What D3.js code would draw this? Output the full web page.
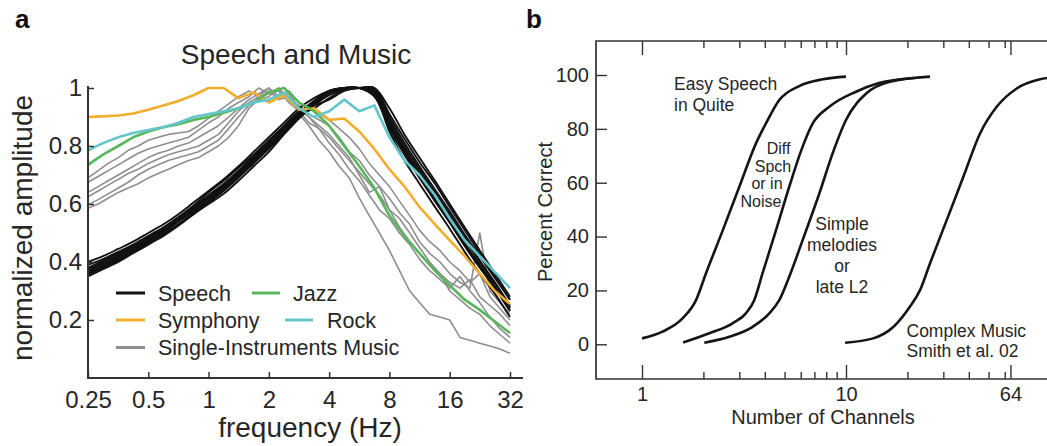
<!DOCTYPE html>
<html><head><meta charset="utf-8">
<script src="https://cdn.jsdelivr.net/npm/d3@7"></script>
<style>
body{margin:0;background:#fff;}
svg{display:block;font-family:"Liberation Sans",Arial,Helvetica,sans-serif;}
</style>
</head><body>
<svg id="c" width="1047" height="446"></svg>
<script>
// ---------------- Panel a data ----------------
const freqQuarter = [0.25,0.297,0.354,0.42,0.5,0.595,0.707,0.841,1,1.19,1.41,1.68,2,2.38,2.83,3.36,4,4.76,5.66,6.73,8,9.51,11.3,13.5,16,19,22.6,26.9,32];
const freqSixth = [0.25,0.281,0.315,0.354,0.397,0.445,0.5,0.561,0.63,0.707,0.794,0.891,1,1.12,1.26,1.41,1.59,1.78,2,2.24,2.52,2.83,3.17,3.56,4,4.49,5.04,5.66,6.35,7.13,8,8.98,10.1,11.3,12.7,14.3,16,18,20.2,22.6,25.4,28.5,32];

const speech1 = [0.40,0.42,0.445,0.47,0.50,0.53,0.565,0.605,0.645,0.685,0.73,0.78,0.83,0.88,0.93,0.965,0.99,1.0,1.0,0.97,0.86,0.77,0.69,0.61,0.535,0.455,0.38,0.31,0.23];
const speech2 = [0.35,0.375,0.40,0.43,0.46,0.49,0.525,0.565,0.605,0.645,0.69,0.74,0.79,0.845,0.90,0.945,0.98,1.0,1.0,0.99,0.90,0.81,0.73,0.65,0.575,0.495,0.42,0.345,0.27];
const speech3 = [0.37,0.395,0.42,0.445,0.475,0.505,0.54,0.58,0.62,0.66,0.705,0.755,0.805,0.855,0.91,0.95,0.98,0.995,1.0,1.0,0.91,0.825,0.745,0.67,0.59,0.51,0.43,0.35,0.27];
const speech4 = [0.38,0.405,0.43,0.455,0.485,0.515,0.55,0.59,0.63,0.67,0.715,0.765,0.815,0.865,0.915,0.955,0.99,1.0,1.0,0.98,0.87,0.78,0.695,0.615,0.54,0.46,0.385,0.31,0.235];
const speech5 = [0.36,0.385,0.41,0.44,0.47,0.50,0.53,0.565,0.60,0.635,0.68,0.73,0.78,0.84,0.895,0.94,0.975,0.995,1.0,0.995,0.89,0.80,0.72,0.64,0.565,0.485,0.405,0.33,0.25];
const speech6 = [0.39,0.41,0.435,0.46,0.49,0.52,0.555,0.595,0.64,0.68,0.725,0.77,0.82,0.87,0.92,0.94,0.96,0.99,1.0,0.99,0.88,0.785,0.705,0.625,0.545,0.465,0.39,0.315,0.24];
const speech7 = [0.355,0.38,0.405,0.435,0.465,0.495,0.53,0.57,0.61,0.65,0.695,0.745,0.795,0.85,0.905,0.95,0.985,1.0,1.0,0.975,0.85,0.75,0.67,0.59,0.515,0.435,0.36,0.29,0.21];
const speech8 = [0.375,0.40,0.425,0.45,0.48,0.51,0.545,0.585,0.625,0.665,0.71,0.76,0.81,0.86,0.905,0.93,0.965,0.995,1.0,1.0,0.93,0.84,0.76,0.68,0.60,0.52,0.44,0.36,0.28];
const speech9 = [0.365,0.39,0.415,0.445,0.475,0.505,0.54,0.575,0.615,0.655,0.70,0.75,0.80,0.855,0.91,0.955,0.99,1.0,1.0,0.985,0.88,0.79,0.71,0.635,0.56,0.48,0.40,0.325,0.245];

const single1 = [0.69,0.715,0.74,0.76,0.785,0.80,0.82,0.83,0.84,0.845,0.85,0.87,0.895,0.92,0.945,0.97,0.99,0.97,1.0,0.97,0.99,0.95,0.93,0.91,0.89,0.86,0.83,0.79,0.74,0.70,0.66,0.61,0.56,0.51,0.47,0.44,0.40,0.37,0.33,0.36,0.28,0.24,0.20];
const single2 = [0.675,0.695,0.715,0.735,0.755,0.775,0.79,0.80,0.81,0.82,0.83,0.855,0.88,0.90,0.93,0.95,0.97,1.0,0.98,1.0,0.96,0.94,0.91,0.89,0.87,0.83,0.78,0.75,0.70,0.66,0.62,0.57,0.53,0.47,0.43,0.40,0.36,0.33,0.31,0.50,0.30,0.26,0.22];
const single3 = [0.64,0.66,0.68,0.70,0.72,0.74,0.76,0.775,0.785,0.80,0.81,0.83,0.85,0.87,0.90,0.93,0.96,0.98,1.0,0.97,0.98,0.93,0.90,0.87,0.84,0.80,0.76,0.70,0.64,0.66,0.58,0.52,0.47,0.43,0.39,0.36,0.33,0.31,0.34,0.28,0.25,0.22,0.18];
const single4 = [0.625,0.645,0.665,0.685,0.705,0.72,0.74,0.755,0.77,0.78,0.79,0.80,0.82,0.84,0.88,0.92,0.95,0.97,0.98,0.99,0.95,0.92,0.88,0.86,0.81,0.77,0.72,0.68,0.63,0.58,0.55,0.50,0.46,0.41,0.37,0.34,0.31,0.35,0.30,0.26,0.21,0.17,0.14];
const single5 = [0.597,0.615,0.635,0.655,0.675,0.70,0.72,0.735,0.75,0.76,0.77,0.78,0.80,0.82,0.86,0.90,0.94,0.96,0.99,0.96,0.97,0.91,0.87,0.82,0.78,0.73,0.69,0.62,0.56,0.50,0.44,0.37,0.30,0.26,0.22,0.21,0.20,0.14,0.13,0.12,0.11,0.10,0.085];
const single6 = [0.585,0.60,0.62,0.64,0.655,0.67,0.69,0.705,0.72,0.735,0.75,0.76,0.78,0.80,0.83,0.87,0.93,0.96,0.97,1.0,0.95,0.93,0.90,0.86,0.83,0.79,0.75,0.71,0.67,0.63,0.58,0.55,0.50,0.45,0.40,0.36,0.30,0.27,0.24,0.22,0.18,0.15,0.12];

const symphonyValues = [0.90,0.902,0.905,0.912,0.925,0.94,0.955,0.975,1.0,1.0,0.965,0.985,0.95,0.975,0.925,0.93,0.89,0.895,0.85,0.79,0.72,0.66,0.59,0.53,0.475,0.42,0.36,0.30,0.255];
const jazzValues = [0.735,0.77,0.80,0.83,0.85,0.865,0.875,0.89,0.90,0.915,0.93,0.95,0.985,1.0,0.95,0.92,0.87,0.80,0.73,0.655,0.56,0.49,0.43,0.37,0.32,0.27,0.235,0.195,0.155];
const rockValues = [0.785,0.81,0.83,0.845,0.855,0.865,0.88,0.90,0.91,0.92,0.93,0.95,0.96,0.985,0.93,0.90,0.92,0.96,0.92,0.94,0.83,0.75,0.70,0.63,0.55,0.475,0.42,0.365,0.31];

const xTicksA = [0.25,0.5,1,2,4,8,16,32];
const yTicksA = [0.2,0.4,0.6,0.8,1];
const legendLabels = ["Speech","Jazz","Symphony","Rock","Single-Instruments Music"];

// ---------------- Panel b data ----------------
const easyChannels = [1,1.26,1.58,1.84,2.06,2.49,3.0,3.62,4.05,4.71,5.9,7.69,10];
const easyPercent  = [2.2,4.7,9.6,16.4,26.4,42.4,58.5,74.6,82,90.7,95.9,98.4,99.4];
const diffChannels = [1.59,2.14,2.78,3.23,3.55,3.9,4.54,5.27,6.13,6.87,8.28,11.2,14.5,21.5];
const diffPercent  = [0.7,4.1,7.8,11.5,16.4,26.4,42.4,58.5,73.4,82,88.2,93.8,97,98.9];
const simpleChannels = [2.02,2.68,3.49,4.21,4.71,5.27,6.13,7.4,8.6,10,12.6,16.4,25.8];
const simplePercent  = [0.6,2.8,6.5,11.5,16.4,25.1,38.7,56,70.9,83.3,93.2,97.5,99.4];
const complexChannels = [9.9,13.6,17.1,20.6,23.1,25.8,31.2,37.6,45.4,54.8,68.7,89.3,110];
const complexPercent  = [0.6,2.2,6.5,14,20.2,30,46.2,62.2,78.3,88.2,95,98.4,99.3];

const xTicksBMajor = [1,10,64];
const xTicksBMinor = [2,3,4,5,6,7,8,9,20,30,40,50,60];
const yTicksB = [0,20,40,60,80,100];

// ---------------- Drawing ----------------
const svg = d3.select("#c");
const TXT = "#262626", AX = "#333";
svg.append("defs").append("clipPath").attr("id","clipA")
  .append("rect").attr("x",0).attr("y",0).attr("width",523).attr("height",446);

// ===== Panel a =====
const A = svg.append("g").attr("clip-path","url(#clipA)");
const xA = d3.scaleLog().base(2).domain([0.25,32]).range([88,510]);
const yA = d3.scaleLinear().domain([0,1]).range([378,88]);
const lineA = d3.line().x(d=>xA(d[0])).y(d=>yA(d[1]));
const lineASmooth = d3.line().x(d=>xA(d[0])).y(d=>yA(d[1])).curve(d3.curveCatmullRom);

const zip = (xs, ys) => xs.map((x,i)=>[x, ys[i]]);

[single1,single2,single3,single4,single5,single6].forEach(v=>{
  A.append("path").datum(zip(freqSixth,v)).attr("d",lineA)
   .attr("fill","none").attr("stroke","#8e8e8e").attr("stroke-width",1.6).attr("stroke-linejoin","round");
});
[speech1,speech2,speech3,speech4,speech5,speech6,speech7,speech8,speech9].forEach(v=>{
  A.append("path").datum(zip(freqQuarter,v)).attr("d",lineASmooth)
   .attr("fill","none").attr("stroke","#111").attr("stroke-width",1.9);
});
const colored = [[symphonyValues,"#f1ad2d"],[jazzValues,"#58b75a"],[rockValues,"#62c6ca"]];
colored.forEach(([v,c])=>{
  A.append("path").datum(zip(freqQuarter,v)).attr("d",lineA)
   .attr("fill","none").attr("stroke",c).attr("stroke-width",2.6).attr("stroke-linejoin","round");
});

// axes a
const gxA = A.append("g").attr("transform","translate(0,378)")
  .call(d3.axisBottom(xA).tickValues(xTicksA).tickFormat(d=>String(d)).tickSizeInner(-6).tickSizeOuter(0).tickPadding(13));
gxA.select(".domain").remove();
gxA.selectAll("line").attr("stroke",AX).attr("stroke-width",1.5);
gxA.selectAll("text").attr("font-size",24).attr("fill",TXT).attr("font-family","Liberation Sans, Arial, sans-serif");
A.append("line").attr("x1",87).attr("x2",535).attr("y1",378).attr("y2",378).attr("stroke",AX).attr("stroke-width",2);

const gyA = A.append("g").attr("transform","translate(88,0)")
  .call(d3.axisLeft(yA).tickValues(yTicksA).tickFormat(d=>d===1?"1":d.toFixed(1)).tickSizeInner(-6).tickSizeOuter(0).tickPadding(6));
gyA.select(".domain").remove();
gyA.selectAll("line").attr("stroke",AX).attr("stroke-width",1.5);
gyA.selectAll("text").attr("font-size",24).attr("fill",TXT).attr("font-family","Liberation Sans, Arial, sans-serif");
A.append("line").attr("x1",88).attr("x2",88).attr("y1",379).attr("y2",86).attr("stroke",AX).attr("stroke-width",2);

A.append("text").attr("x",296).attr("y",64).attr("text-anchor","middle").attr("font-size",28).attr("fill",TXT).text("Speech and Music");
A.append("text").attr("transform","translate(32,228) rotate(-90)").attr("text-anchor","middle")
  .attr("font-size",28).attr("fill",TXT).text("normalized amplitude");
A.append("text").attr("x",310).attr("y",437).attr("text-anchor","middle").attr("font-size",28).attr("fill",TXT).text("frequency (Hz)");

// legend
const legendLayout = [
  {c:"#111", x1:116, x2:145, tx:158, y:293},
  {c:"#58b75a", x1:252, x2:280, tx:293, y:293},
  {c:"#f1ad2d", x1:116, x2:145, tx:158, y:320},
  {c:"#62c6ca", x1:285, x2:313, tx:327, y:320},
  {c:"#8e8e8e", x1:116, x2:145, tx:158, y:347.5}
];
legendLabels.forEach((lab,i)=>{
  const L = legendLayout[i];
  A.append("line").attr("x1",L.x1).attr("x2",L.x2).attr("y1",L.y).attr("y2",L.y).attr("stroke",L.c).attr("stroke-width",3);
  A.append("text").attr("x",L.tx).attr("y",L.y+7.5).attr("font-size",21.5).attr("fill",TXT).text(lab);
});

svg.append("text").attr("x",15).attr("y",28).attr("font-size",26).attr("font-weight","bold").attr("fill","#111").text("a");

// ===== Panel b =====
const B = svg.append("g");
const xB = d3.scaleLog().domain([1,10]).range([642,846]);
const yB = d3.scaleLinear().domain([0,100]).range([344.3,75]);
const frameTop = 41, frameBottom = 379, frameLeft = 596;

B.append("path").attr("d",`M1070,${frameTop}H${frameLeft}V${frameBottom}H1070`).attr("fill","none").attr("stroke",AX).attr("stroke-width",1.7);

function styleAxis(g){ g.select(".domain").remove(); g.selectAll("line").attr("stroke",AX).attr("stroke-width",1.4);
  g.selectAll("text").attr("font-size",20).attr("fill",TXT).attr("font-family","Liberation Sans, Arial, sans-serif"); }

styleAxis(B.append("g").attr("transform",`translate(0,${frameBottom})`).call(d3.axisBottom(xB).tickValues(xTicksBMinor).tickFormat("").tickSize(-7)));
styleAxis(B.append("g").attr("transform",`translate(0,${frameBottom})`).call(d3.axisBottom(xB).tickValues(xTicksBMajor).tickFormat(d3.format("d")).tickSize(-14).tickPadding(8)));
styleAxis(B.append("g").attr("transform",`translate(0,${frameTop})`).call(d3.axisTop(xB).tickValues(xTicksBMinor).tickFormat("").tickSize(-7)));
styleAxis(B.append("g").attr("transform",`translate(0,${frameTop})`).call(d3.axisTop(xB).tickValues(xTicksBMajor).tickFormat("").tickSize(-14)));
styleAxis(B.append("g").attr("transform",`translate(${frameLeft},0)`).call(d3.axisLeft(yB).tickValues(yTicksB).tickSize(-11).tickPadding(7)));

const lineB = d3.line().x(d=>xB(d[0])).y(d=>yB(d[1])).curve(d3.curveMonotoneX);
[[easyChannels,easyPercent],[diffChannels,diffPercent],[simpleChannels,simplePercent],[complexChannels,complexPercent]].forEach(([c,p])=>{
  B.append("path").datum(zip(c,p)).attr("d",lineB).attr("fill","none").attr("stroke","#151515").attr("stroke-width",2.6);
});

// multi-line annotations: one text element per label, one tspan per line
const annotations = [
  {anchor:"start",  size:17.5, lines:[["Easy Speech",674,90],["in Quite",674,110.5]]},
  {anchor:"middle", size:16,   lines:[["Diff",778.5,154],["Spch",773,171.5],["or in",767,189],["Noise",761,206.5]]},
  {anchor:"middle", size:17.5, lines:[["Simple",842,230],["melodies",842,250.7],["or",842,271.7],["late L2",842,292.7]]},
  {anchor:"start",  size:17.5, lines:[["Complex Music",906.5,336.7],["Smith et al. 02",906.5,357.3]]}
];
annotations.forEach(a=>{
  const t = B.append("text").attr("text-anchor",a.anchor).attr("font-size",a.size).attr("fill",TXT);
  a.lines.forEach(([s,x,y])=> t.append("tspan").attr("x",x).attr("y",y).text(s));
});

B.append("text").attr("transform","translate(552,212) rotate(-90)").attr("text-anchor","middle")
  .attr("font-size",20).attr("fill",TXT).text("Percent Correct");
B.append("text").attr("x",823).attr("y",424).attr("text-anchor","middle").attr("font-size",20).attr("fill",TXT).text("Number of Channels");

svg.append("text").attr("x",526).attr("y",28).attr("font-size",26).attr("font-weight","bold").attr("fill","#111").text("b");
</script>
</body></html>
